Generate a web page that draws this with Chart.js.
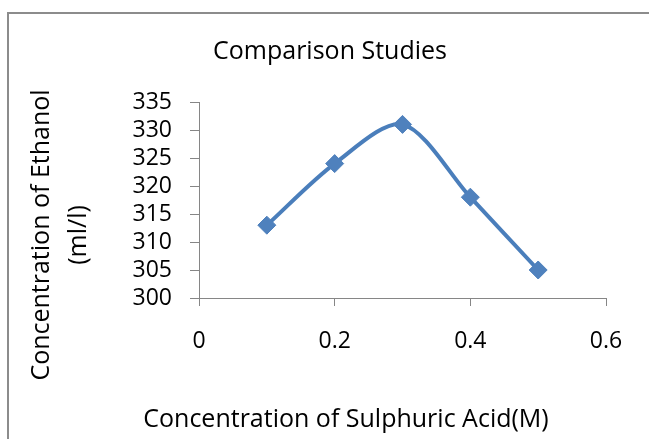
<!DOCTYPE html>
<html>
<head>
<meta charset="utf-8">
<script src="https://cdn.jsdelivr.net/npm/chart.js@4/dist/chart.umd.min.js"></script>
<style>
html,body{margin:0;padding:0;background:#fff;}
#wrap{width:649px;height:439px;position:relative;}
</style>
</head>
<body>
<div id="wrap"><canvas id="c" width="649" height="439"></canvas></div>
<script>
const xValues = [0.1, 0.2, 0.3, 0.4, 0.5];
const yValues = [313, 324, 331, 318, 305];
const xTicks = [0, 0.2, 0.4, 0.6];
const yTicks = [300, 305, 310, 315, 320, 325, 330, 335];
const chartTitle = 'Comparison Studies';
const xTitle = 'Concentration of Sulphuric Acid(M)';
const yTitle = ['Concentration of Ethanol', '(ml/l)'];

const FONT = '"Open Sans", "DejaVu Sans", sans-serif';
const AXIS = '#868686';

const points = xValues.map((x, i) => ({x: x, y: yValues[i]}));

const decor = {
  id: 'decor',
  beforeDraw(chart) {
    const ctx = chart.ctx;
    ctx.save();
    ctx.fillStyle = '#fff';
    ctx.fillRect(0, 0, chart.width, chart.height);
    ctx.strokeStyle = '#8c8c8c';
    ctx.lineWidth = 2;
    ctx.strokeRect(8, 13, 800, 600);
    ctx.restore();
  },
  afterDraw(chart) {
    const ctx = chart.ctx;
    ctx.save();
    ctx.fillStyle = '#000';
    ctx.textAlign = 'center';
    ctx.textBaseline = 'middle';
    ctx.font = '25px ' + FONT;
    ctx.fillText(chartTitle, 330, 52);
    ctx.fillText(xTitle, 346, 420);
    ctx.translate(42, 235);
    ctx.rotate(-Math.PI / 2);
    ctx.fillText(yTitle[0], 0, 0);
    ctx.fillText(yTitle[1], 0, 37);
    ctx.restore();
  }
};

new Chart(document.getElementById('c'), {
  type: 'scatter',
  data: {
    datasets: [{
      data: points,
      showLine: true,
      borderColor: '#4A7EBB',
      backgroundColor: '#4F81BD',
      borderWidth: 4,
      tension: 0.3,
      pointStyle: 'rectRot',
      pointRadius: 9,
      pointHoverRadius: 9,
      pointBackgroundColor: '#4F81BD',
      pointBorderColor: '#4F81BD',
      pointBorderWidth: 1
    }]
  },
  options: {
    responsive: false,
    animation: false,
    events: [],
    layout: {padding: {left: 0, top: 102, right: 43, bottom: 0}},
    plugins: {legend: {display: false}, tooltip: {enabled: false}, title: {display: false}},
    scales: {
      x: {
        type: 'linear',
        min: 0, max: 0.6,
        afterFit(s) { s.height = 141; },
        afterBuildTicks(s) { s.ticks = xTicks.map(v => ({value: v})); },
        grid: {drawOnChartArea: false, drawTicks: true, tickLength: 8, color: AXIS, lineWidth: 1},
        border: {color: AXIS, width: 1},
        ticks: {color: '#000', padding: 22, font: {family: FONT, size: 23}, maxRotation: 0,
          autoSkip: false, callback: v => String(v)}
      },
      y: {
        type: 'linear',
        min: 300, max: 335,
        afterFit(s) { s.width = 199; },
        afterBuildTicks(s) { s.ticks = yTicks.map(v => ({value: v})); },
        grid: {drawOnChartArea: false, drawTicks: true, tickLength: 9, color: AXIS, lineWidth: 1},
        border: {color: AXIS, width: 1},
        ticks: {color: '#000', padding: 18, font: {family: FONT, size: 23},
          autoSkip: false, callback: v => String(v)}
      }
    }
  },
  plugins: [decor]
});
</script>
</body>
</html>
